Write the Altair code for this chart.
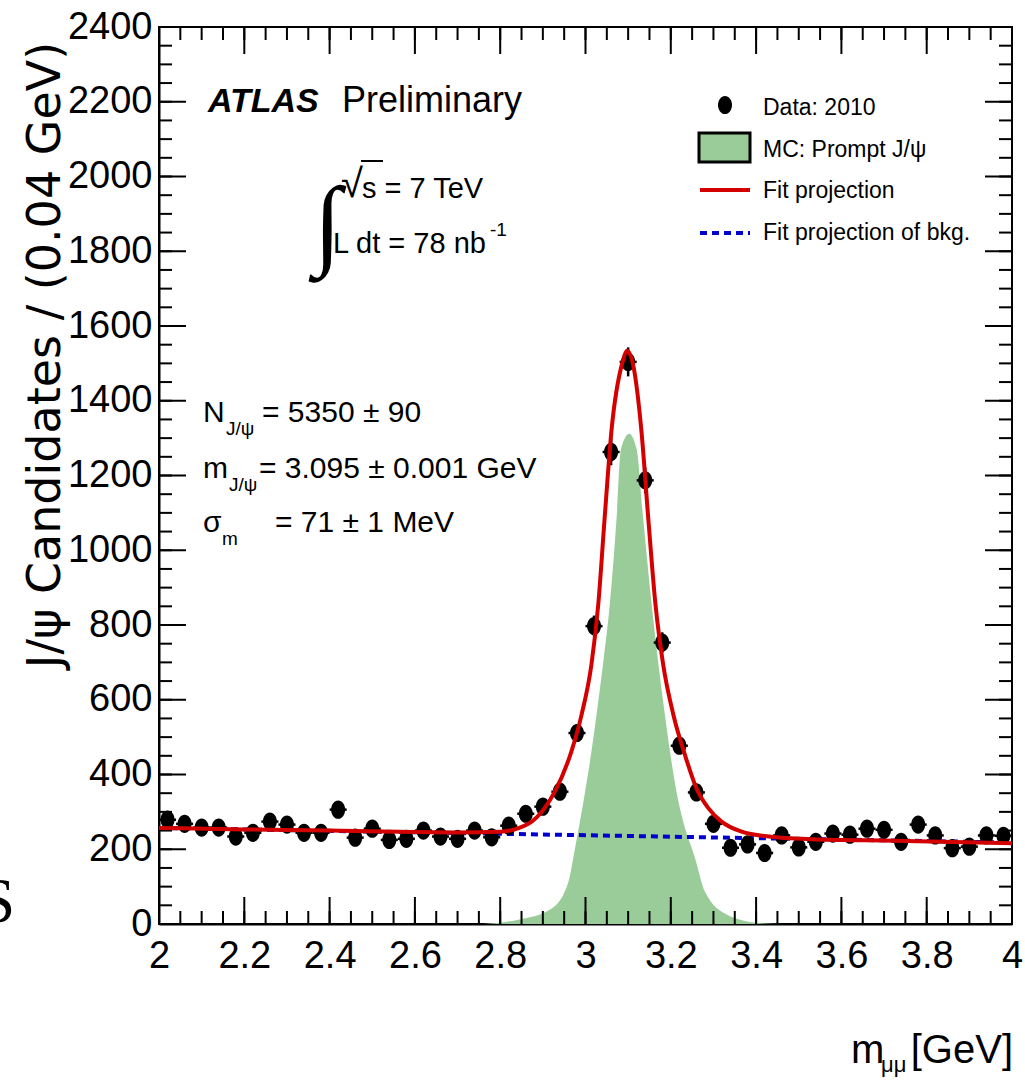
import altair as alt
import pandas as pd

# ---------------- data ----------------
bin_centers = [2.02, 2.06, 2.10, 2.14, 2.18, 2.22, 2.26, 2.30, 2.34, 2.38,
               2.42, 2.46, 2.50, 2.54, 2.58, 2.62, 2.66, 2.70, 2.74, 2.78,
               2.82, 2.86, 2.90, 2.94, 2.98, 3.02, 3.06, 3.10, 3.14, 3.18,
               3.22, 3.26, 3.30, 3.34, 3.38, 3.42, 3.46, 3.50, 3.54, 3.58,
               3.62, 3.66, 3.70, 3.74, 3.78, 3.82, 3.86, 3.90, 3.94, 3.98]
counts = [279, 268, 258, 258, 234, 244, 274, 266, 244, 244,
          306, 231, 255, 225, 228, 250, 234, 228, 250, 232,
          263, 295, 314, 354, 511, 797, 1263, 1504, 1187, 753,
          477, 352, 268, 204, 213, 190, 237, 205, 220, 242,
          239, 255, 252, 220, 266, 237, 203, 207, 237, 236]

fit_mass = [2.00, 2.20, 2.40, 2.60, 2.70, 2.80, 2.866, 2.904, 2.928, 2.967,
            2.991, 3.014, 3.030, 3.045, 3.061, 3.086, 3.098, 3.111, 3.131,
            3.147, 3.164, 3.182, 3.206, 3.233, 3.262, 3.288, 3.319, 3.366,
            3.43, 3.53, 3.725, 4.00]
fit_values = [257, 253, 250, 246, 245, 247, 268, 310, 354, 462,
              561, 695, 856, 1088, 1321, 1500, 1534, 1500, 1321,
              1088, 856, 695, 560, 453, 358, 310, 274, 247,
              234, 227, 223, 216]

bkg_mass = [2.0, 4.0]
bkg_values = [257, 218]

mc_mass = [2.76, 2.84, 2.92, 2.96, 2.975, 2.997, 3.014, 3.026, 3.041, 3.057,
           3.073, 3.083, 3.1025, 3.120, 3.135, 3.155, 3.171, 3.186, 3.198,
           3.214, 3.225, 3.257, 3.28, 3.335, 3.413, 3.46]
mc_values = [0, 11, 41, 113, 200, 340, 462, 561, 695, 856,
             1088, 1270, 1312, 1270, 1088, 856, 695, 561, 462,
             350, 292, 175, 86, 23, 2, 0]

x_major = [2.0, 2.2, 2.4, 2.6, 2.8, 3.0, 3.2, 3.4, 3.6, 3.8, 4.0]
x_minor = [round(2.0 + 0.05 * i, 2) for i in range(41)]
y_major = [0, 200, 400, 600, 800, 1000, 1200, 1400, 1600, 1800, 2000, 2200, 2400]
y_minor = list(range(0, 2401, 50))

# ---------------- styling ----------------
W, H = 853, 897
FONT = "Liberation Sans, Arial, sans-serif"
GREEN = "#99cc99"
RED = "#d40000"
BLUE = "#0000cc"
ELLIPSE = "M 0 -1.3 A 1 1.3 0 1 1 0 1.3 A 1 1.3 0 1 1 0 -1.3 Z"

xs = alt.Scale(domain=[2, 4], nice=False, zero=False)
ys = alt.Scale(domain=[0, 2400], nice=False, zero=False)
xaxis = alt.Axis(values=x_major, format="~g", ticks=False, grid=False, title=None,
                 labelPadding=13, labelFlush=False, labelOverlap=False)
yaxis = alt.Axis(values=y_major, format="d", ticks=False, grid=False, title=None,
                 labelPadding=7, labelFlush=False, labelOverlap=False)

df_pts = pd.DataFrame({"m": bin_centers, "n": counts})
df_fit = pd.DataFrame({"m": fit_mass, "v": fit_values})
df_bkg = pd.DataFrame({"m": bkg_mass, "v": bkg_values})
df_mc = pd.DataFrame({"m": mc_mass, "v": mc_values})
one = pd.DataFrame({"d": [0]})

X = lambda f: alt.X(f, scale=xs, axis=xaxis)
Y = lambda f: alt.Y(f, scale=ys, axis=yaxis)

layers = []

# MC prompt J/psi
layers.append(alt.Chart(df_mc).mark_area(color=GREEN, interpolate="monotone", opacity=1)
              .encode(x=X("m:Q"), y=Y("v:Q")))

# ticks (inward, ROOT style)
def ticks(vals, axis, length):
    df = pd.DataFrame({"t": vals})
    out = []
    if axis == "y":
        for a, b in [(0, length), (W - length, W)]:
            out.append(alt.Chart(df).mark_rule(color="black", strokeWidth=2)
                       .encode(y=Y("t:Q"), x=alt.value(a), x2=alt.value(b)))
    else:
        for a, b in [(H - length, H), (0, length)]:
            out.append(alt.Chart(df).mark_rule(color="black", strokeWidth=2)
                       .encode(x=X("t:Q"), y=alt.value(a), y2=alt.value(b)))
    return out

layers += ticks(y_major, "y", 27)
layers += ticks(y_minor, "y", 13)
layers += ticks(x_major, "x", 27)
layers += ticks(x_minor, "x", 13)

# background fit projection
layers.append(alt.Chart(df_bkg).mark_line(color=BLUE, strokeWidth=4, strokeDash=[7, 5])
              .encode(x=X("m:Q"), y=Y("v:Q")))

# data with error bars
base = alt.Chart(df_pts).transform_calculate(
    xlo="datum.m - 0.02", xhi="datum.m + 0.02",
    ylo="datum.n - sqrt(datum.n)", yhi="datum.n + sqrt(datum.n)")
layers.append(base.mark_rule(color="black", strokeWidth=2.5)
              .encode(x=X("xlo:Q"), x2="xhi:Q", y=Y("n:Q")))
layers.append(base.mark_rule(color="black", strokeWidth=2.5)
              .encode(x=X("m:Q"), y=Y("ylo:Q"), y2="yhi:Q"))
layers.append(base.mark_point(shape=ELLIPSE, size=196, filled=True, color="black", opacity=1)
              .encode(x=X("m:Q"), y=Y("n:Q")))

# total fit projection
layers.append(alt.Chart(df_fit).mark_line(color=RED, strokeWidth=4, interpolate="monotone")
              .encode(x=X("m:Q"), y=Y("v:Q")))

# ---------------- annotations ----------------
def txt(s, x, y, size, font=FONT, align="left", **kw):
    return (alt.Chart(one).mark_text(text=s, fontSize=size, font=font, align=align,
                                     baseline="alphabetic", color="black", **kw)
            .encode(x=alt.value(x), y=alt.value(y)))

layers += [
    txt("ATLAS", 49, 85, 34, fontStyle="italic", fontWeight="bold"),
    txt("Preliminary", 183, 85, 36),
    txt("\u221a", 182, 170, 40),
    txt("s = 7 TeV", 203, 171, 29),
    txt("L dt = 78 nb", 174, 226, 29),
    txt("-1", 331, 209, 19),
    txt("\u222b", 155, 229, 100, font="Liberation Serif"),
    txt("N", 44, 395, 30), txt("J/\u03c8", 67, 408, 19), txt("= 5350 \u00b1 90", 103, 395, 30),
    txt("m", 44, 451, 30), txt("J/\u03c8", 70, 464, 19), txt("= 3.095 \u00b1 0.001 GeV", 100, 451, 30),
    txt("\u03c3", 44, 505, 30), txt("m", 63, 518, 19), txt("= 71 \u00b1  1 MeV", 116, 505, 30),
    # legend
    txt("Data: 2010", 604, 88, 23),
    txt("MC: Prompt J/\u03c8", 604, 130, 23),
    txt("Fit projection", 604, 171, 23),
    txt("Fit projection of bkg.", 604, 213, 23),
    # axis titles
    txt("m", 692, 1036, 40), txt("\u03bc\u03bc", 722, 1045, 22),
    txt("[GeV]", 854, 1036, 40, align="right"),
    (alt.Chart(one).mark_text(text="J/\u03c8 Candidates / (0.04 GeV)", fontSize=46,
                              font="DejaVu Sans", angle=270, align="center",
                              baseline="middle", color="black")
     .encode(x=alt.value(-113), y=alt.value(328))),
    txt("S", -144, 895, 64, font="Liberation Serif", align="right"),
]

# sqrt overline
layers.append(alt.Chart(one).mark_rule(color="black", strokeWidth=2)
              .encode(x=alt.value(202), x2=alt.value(224), y=alt.value(134)))

# legend symbols
layers.append(alt.Chart(one).mark_point(shape=ELLIPSE, size=196, filled=True, color="black", opacity=1)
              .encode(x=alt.value(566), y=alt.value(78)))
layers.append(alt.Chart(one).mark_rect(fill=GREEN, stroke="black", strokeWidth=3)
              .encode(x=alt.value(540), x2=alt.value(591), y=alt.value(106), y2=alt.value(135)))
layers.append(alt.Chart(one).mark_rule(color=RED, strokeWidth=4)
              .encode(x=alt.value(541), x2=alt.value(591), y=alt.value(163)))
layers.append(alt.Chart(one).mark_rule(color=BLUE, strokeWidth=4, strokeDash=[7, 5])
              .encode(x=alt.value(541), x2=alt.value(591), y=alt.value(206)))

chart = (alt.layer(*layers)
         .properties(width=W, height=H,
                     padding={"left": 159, "top": 27, "right": 13, "bottom": 158},
                     autosize=alt.AutoSizeParams(type="none"))
         .configure_view(stroke="black", strokeWidth=2)
         .configure_axis(labelFont=FONT, labelFontSize=38, labelColor="black",
                         domainColor="black", domainWidth=2))

chart.save("out.html", embed_options={"renderer": "svg", "actions": False})
